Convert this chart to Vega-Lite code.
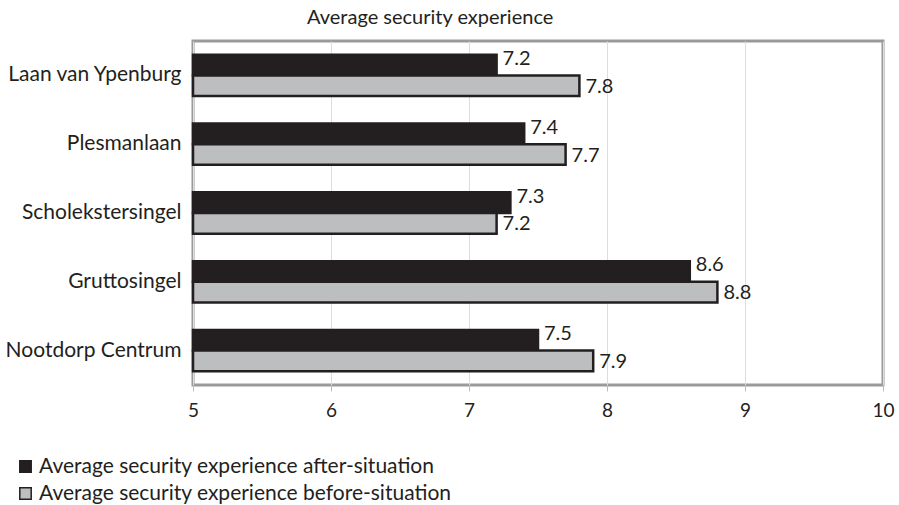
{
  "$schema": "https://vega.github.io/schema/vega-lite/v6.json",
  "autosize": {"type": "none"},
  "width": 690,
  "height": 344,
  "padding": {"left": 193, "top": 41, "right": 16, "bottom": 120},
  "background": "white",
  "config": {
    "font": "Lato",
    "view": {"stroke": "#9a9a9a", "strokeWidth": 3},
    "axis": {"labelFont": "Lato", "labelColor": "#231f20"}
  },
  "title": {
    "text": "Average security experience",
    "anchor": "start",
    "frame": "group",
    "dx": 114,
    "offset": 13,
    "fontSize": 20,
    "fontWeight": "normal",
    "font": "Lato",
    "color": "#231f20"
  },
  "data": {
    "values": [
      {"location": "Laan van Ypenburg", "series": "Average security experience after-situation", "value": 7.2},
      {"location": "Laan van Ypenburg", "series": "Average security experience before-situation", "value": 7.8},
      {"location": "Plesmanlaan", "series": "Average security experience after-situation", "value": 7.4},
      {"location": "Plesmanlaan", "series": "Average security experience before-situation", "value": 7.7},
      {"location": "Scholekstersingel", "series": "Average security experience after-situation", "value": 7.3},
      {"location": "Scholekstersingel", "series": "Average security experience before-situation", "value": 7.2},
      {"location": "Gruttosingel", "series": "Average security experience after-situation", "value": 8.6},
      {"location": "Gruttosingel", "series": "Average security experience before-situation", "value": 8.8},
      {"location": "Nootdorp Centrum", "series": "Average security experience after-situation", "value": 7.5},
      {"location": "Nootdorp Centrum", "series": "Average security experience before-situation", "value": 7.9}
    ]
  },
  "encoding": {
    "y": {
      "field": "location",
      "type": "nominal",
      "sort": ["Laan van Ypenburg", "Plesmanlaan", "Scholekstersingel", "Gruttosingel", "Nootdorp Centrum"],
      "scale": {"paddingInner": 0.4, "paddingOuter": 0.2},
      "axis": {
        "title": null,
        "domain": false,
        "ticks": false,
        "labelFontSize": 21,
        "labelPadding": 12,
        "labelLimit": 200
      }
    },
    "yOffset": {
      "field": "series",
      "type": "nominal",
      "sort": ["Average security experience after-situation", "Average security experience before-situation"]
    },
    "x": {
      "field": "value",
      "type": "quantitative",
      "scale": {"domain": [5, 10], "zero": false},
      "axis": {
        "title": null,
        "values": [5, 6, 7, 8, 9, 10],
        "domain": false,
        "tickColor": "#bbbbbb",
        "tickSize": 6,
        "gridColor": "#dddddd",
        "gridWidth": 1,
        "labelFontSize": 19,
        "labelPadding": 10,
        "labelFlush": false
      }
    }
  },
  "layer": [
    {
      "mark": {"type": "bar", "stroke": "#231f20", "strokeWidth": 2.5},
      "encoding": {
        "x2": {"datum": 5},
        "color": {
          "field": "series",
          "type": "nominal",
          "scale": {
            "domain": ["Average security experience after-situation", "Average security experience before-situation"],
            "range": ["#231f20", "#bcbec0"]
          },
          "legend": {
            "title": null,
            "orient": "none",
            "legendX": -178,
            "legendY": 415,
            "symbolType": "square",
            "symbolSize": 130,
            "symbolStrokeColor": "#231f20",
            "symbolStrokeWidth": 1.5,
            "labelFontSize": 21,
            "labelFont": "Lato",
            "labelColor": "#231f20",
            "labelLimit": 600,
            "rowPadding": 5,
            "labelOffset": 3
          }
        }
      }
    },
    {
      "transform": [{"filter": "datum.series == 'Average security experience after-situation'"}],
      "mark": {"type": "text", "align": "left", "baseline": "middle", "dx": 6, "dy": -6, "fontSize": 20, "font": "Lato", "color": "#231f20"},
      "encoding": {"text": {"field": "value", "type": "quantitative", "format": ".1f"}}
    },
    {
      "transform": [{"filter": "datum.series == 'Average security experience before-situation'"}],
      "mark": {"type": "text", "align": "left", "baseline": "middle", "dx": 6, "dy": 1, "fontSize": 20, "font": "Lato", "color": "#231f20"},
      "encoding": {"text": {"field": "value", "type": "quantitative", "format": ".1f"}}
    }
  ]
}
